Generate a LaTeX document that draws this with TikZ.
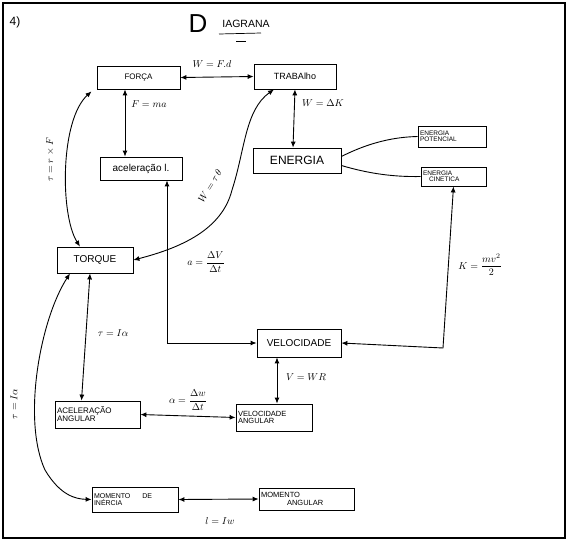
\documentclass[tikz,border=0pt]{standalone}
\usepackage{amsmath}
\usepackage{fontspec}
\setmainfont{Liberation Sans}
\usetikzlibrary{arrows.meta}
\newcommand\fsz[1]{\fontsize{#1}{#1}\selectfont}
\begin{document}
\begin{tikzpicture}[x=1pt,y=-1pt,
  box/.style={draw,line width=0.8pt,inner sep=1pt,align=center},
  boxl/.style={draw,line width=0.8pt,inner sep=2pt,align=left},
  conn/.style={line width=0.9pt},
  lbl/.style={font=\fsz{10},inner sep=1pt},
  >={Latex[length=6pt,width=5pt]}]
\useasboundingbox (0,0) rectangle (573,547);
\draw[line width=1.2pt] (3,3) rectangle (565,538);
% title
\node[font=\fsz{12}] (num) at (15,22) {4)};
\node[font=\fsz{26}] (bigd) at (198,24) {D};
\node[font=\fsz{10.5}] (tit) at (246,24) {IAGRANA};
\draw[line width=0.7pt] (219,34) -- (261,33);
\draw[line width=0.7pt] (236,41) -- (246,41);
% boxes
\node[box,minimum width=83pt,minimum height=23pt,font=\fsz{8}] (forca) at (138.5,77.5) {FORÇA};
\node[box,minimum width=82pt,minimum height=25pt,font=\fsz{9}] (trab) at (295,76.5) {TRABAlho};
\node[box,minimum width=82pt,minimum height=23pt,font=\fsz{10}] (acel) at (141,168.5) {aceleração l.};
\node[box,minimum width=88pt,minimum height=25pt,font=\fsz{12}] (ener) at (297,160.5) {ENERGIA};
\node[boxl,text width=64pt,minimum height=21pt,font=\fsz{6.5}] (epot) at (452,136.5) {ENERGIA\\POTENCIAL};
\node[boxl,text width=61pt,minimum height=19pt,font=\fsz{6.5}] (ecin) at (453.5,176.5) {ENERGIA\\\hspace{6pt}CINETICA};
\node[box,minimum width=76pt,minimum height=26pt,font=\fsz{10}] (torq) at (95,260) {TORQUE};
\node[box,minimum width=84pt,minimum height=28pt,font=\fsz{10}] (velo) at (299,343) {VELOCIDADE};
\node[boxl,text width=81pt,minimum height=27pt,font=\fsz{8}] (acang) at (97.5,414.5) {ACELERAÇÃO\\ANGULAR};
\node[boxl,text width=72pt,minimum height=27pt,font=\fsz{7.5}] (velang) at (274,417.5) {VELOCIDADE\\ANGULAR};
\node[boxl,text width=82pt,minimum height=25pt,font=\fsz{7}] (mine) at (135,499.5) {MOMENTO\hspace{12pt}DE\\INÉRCIA};
\node[boxl,text width=91pt,minimum height=22pt,font=\fsz{7.5}] (mang) at (306.5,499) {MOMENTO\\\hspace{26pt}ANGULAR};
% connectors
\draw[conn,<->] (forca.east) -- (trab.west);
\node[lbl] (l1) at (212,64) {$W = F.d$};
\draw[conn,<->] ([xshift=-13.5pt]forca.south) -- ([xshift=-16pt]acel.north);
\node[lbl] (l2) at (149,104) {$F = ma$};
\draw[conn,<->] (trab.south) -- ([xshift=-4pt]ener.north);
\node[lbl] (l3) at (323,103) {$W = \Delta K$};
\draw[conn] ([yshift=4pt]ener.east) .. controls (370,142) and (395,137) .. (epot.west);
\draw[conn] ([yshift=-5pt]ener.east) .. controls (370,174) and (395,177) .. (ecin.west);
\draw[conn,<->] ([xshift=-47pt,yshift=-2pt]forca.south) .. controls (60,120) and (60,215) .. ([xshift=-15pt]torq.north);
\node[lbl,rotate=90] (l4) at (50,160) {$\tau = r \times F$};
\draw[conn,<->] ([xshift=-21pt]trab.south) .. controls (245,110) and (245,150) .. (232,190) .. controls (222,230) and (180,248) .. (torq.east);
\node[lbl,rotate=58] (l5) at (210,186) {$W = \tau\,\theta$};
\draw[conn,<->] ([xshift=26pt]acel.south) |- (velo.west);
\node[lbl] (l6) at (206,262) {$a = \dfrac{\Delta V}{\Delta t}$};
\coordinate (kc) at (443,348);
\draw[conn,<->] (ecin.south) -- (kc) -- (velo.east);
\node[lbl] (l7) at (480,265) {$K = \dfrac{mv^2}{2}$};
\draw[conn,<->] ([xshift=-5pt]torq.south) -- ([xshift=-16pt]acang.north);
\node[lbl] (l8) at (113,333) {$\tau = I\alpha$};
\draw[conn,<->] ([xshift=-25pt]torq.south) .. controls (40,320) and (22,420) .. (45,470) .. controls (60,495) and (75,499) .. (mine.west);
\node[lbl,rotate=90] (l9) at (14,404) {$\tau = I\alpha$};
\draw[conn,<->] (acang.east) -- (velang.west);
\node[lbl] (l10) at (188,400) {$\alpha = \dfrac{\Delta w}{\Delta t}$};
\draw[conn,<->] ([xshift=-22pt]velo.south) -- ([xshift=3pt]velang.north);
\node[lbl] (l11) at (306,377) {$V = WR$};
\draw[conn,<->] (mine.east) -- (mang.west);
\node[lbl] (l12) at (220,521) {$l = Iw$};
\end{tikzpicture}
\end{document}
